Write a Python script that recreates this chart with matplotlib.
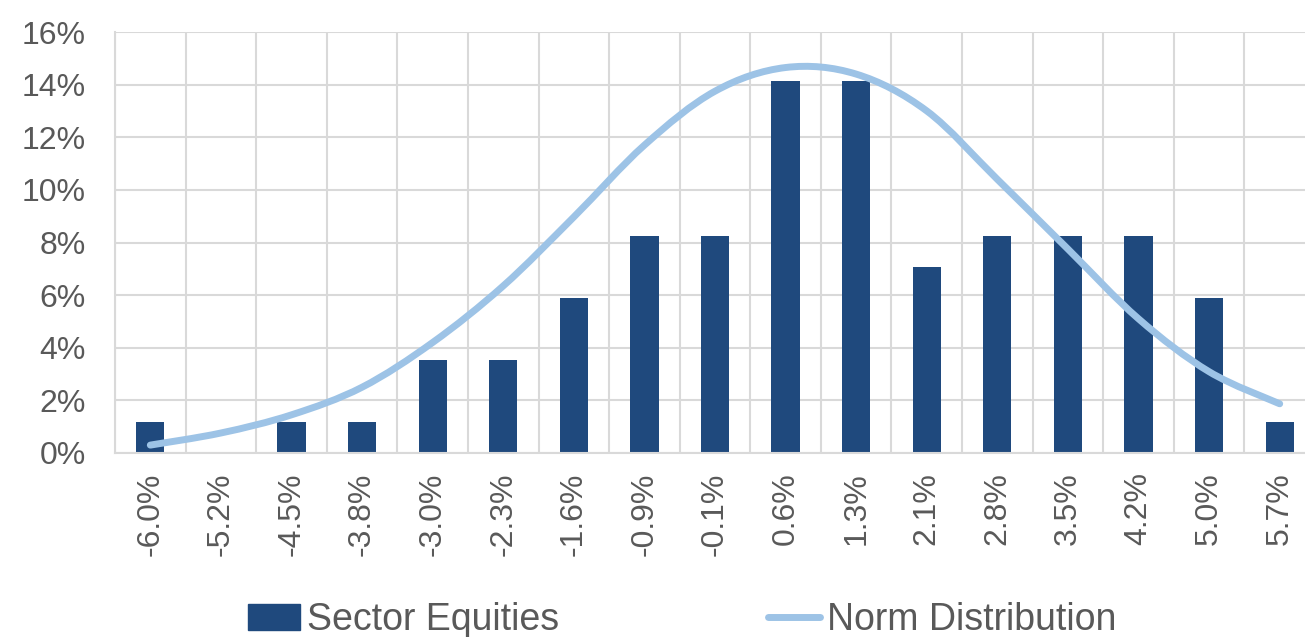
import matplotlib.pyplot as plt
import numpy as np
from matplotlib.path import Path
from matplotlib.patches import PathPatch, Patch
from matplotlib.lines import Line2D

plt.rcParams['font.family'] = ['Liberation Sans', 'DejaVu Sans']

categories = ['-6.0%', '-5.2%', '-4.5%', '-3.8%', '-3.0%', '-2.3%', '-1.6%', '-0.9%', '-0.1%',
              '0.6%', '1.3%', '2.1%', '2.8%', '3.5%', '4.2%', '5.0%', '5.7%']
sector_equities = [1.18, 0.0, 1.18, 1.18, 3.53, 3.53, 5.88, 8.24, 8.24,
                   14.12, 14.12, 7.06, 8.24, 8.24, 8.24, 5.88, 1.18]
norm_distribution = [0.30, 0.76, 1.45, 2.50, 4.20, 6.35, 8.97, 11.70, 13.75,
                     14.65, 14.40, 13.00, 10.40, 7.75, 5.10, 3.09, 1.87]

bar_color = '#1F497D'
line_color = '#9DC3E6'
text_color = '#595959'
grid_color = '#D9D9D9'


def smooth_path(xs, ys):
    # Excel-style smoothed line: Catmull-Rom segments as cubic Beziers
    pts = np.column_stack([xs, ys])
    ext = np.vstack([pts[0], pts, pts[-1]])
    verts = [pts[0]]
    codes = [Path.MOVETO]
    for i in range(len(pts) - 1):
        p0, p1, p2, p3 = ext[i], ext[i + 1], ext[i + 2], ext[i + 3]
        c1 = p1 + (p2 - p0) / 6.0
        c2 = p2 - (p3 - p1) / 6.0
        verts += [c1, c2, p2]
        codes += [Path.CURVE4] * 3
    return Path(verts, codes)


fig = plt.figure(figsize=(13.05, 6.37), dpi=100)
ax = fig.add_axes([115 / 1305, 1 - 453 / 637, 1200 / 1305, (453 - 32) / 637])

x = np.arange(len(categories))
ax.bar(x, sector_equities, width=0.4, color=bar_color, zorder=2)
ax.add_patch(PathPatch(smooth_path(x, norm_distribution), fill=False,
                       edgecolor=line_color, lw=5, capstyle='round', zorder=3))

ax.set_xlim(-0.5, len(categories) - 0.5)
ax.set_ylim(0, 16)
ax.set_yticks(range(0, 17, 2))
ax.set_yticklabels([f'{v}%' for v in range(0, 17, 2)])
ax.set_xticks(x)
ax.set_xticklabels(categories, rotation=90)
ax.set_xticks(np.arange(-0.5, len(categories), 1), minor=True)

ax.grid(axis='y', which='major', color=grid_color, lw=1.5, zorder=0)
ax.grid(axis='x', which='minor', color=grid_color, lw=1.5, zorder=0)
ax.tick_params(axis='both', which='both', length=0, labelsize=23, colors=text_color)
ax.tick_params(axis='y', pad=21)
ax.tick_params(axis='x', pad=14)
for side in ['top', 'right']:
    ax.spines[side].set_visible(False)
for side in ['left', 'bottom']:
    ax.spines[side].set_color(grid_color)
    ax.spines[side].set_linewidth(1.5)

handles = [Patch(color=bar_color), Line2D([0], [0], color=line_color, lw=5, solid_capstyle='round')]
fig.legend(handles, ['Sector Equities', 'Norm Distribution'], loc='center',
           bbox_to_anchor=(682 / 1305, 1 - 620 / 637), ncol=2, frameon=False,
           fontsize=27, labelcolor=text_color, handlelength=1.39, handletextpad=0.19,
           columnspacing=5.57)

plt.savefig('out.png', dpi=100)
